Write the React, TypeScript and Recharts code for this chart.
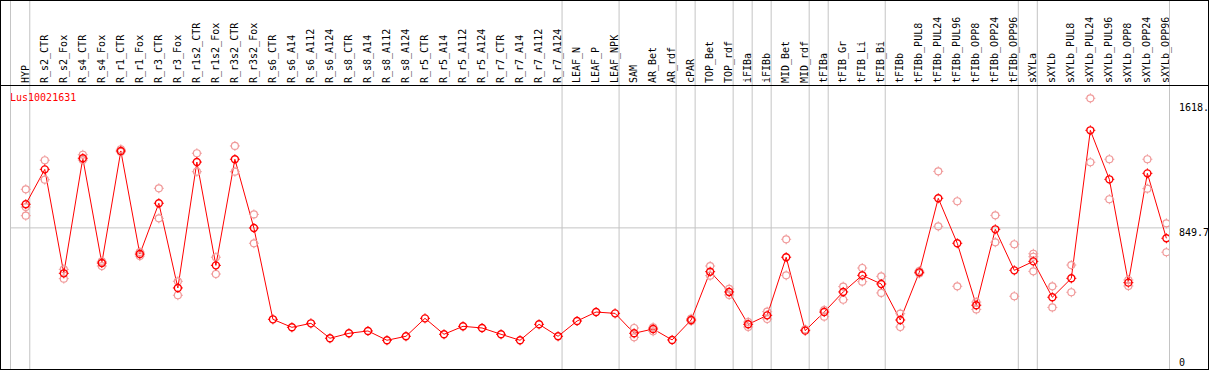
import { ComposedChart, Line, XAxis, YAxis, ReferenceLine } from 'recharts';

const categories = [
  'HYP', 'R_s2_CTR', 'R_s2_Fox', 'R_s4_CTR', 'R_s4_Fox', 'R_r1_CTR', 'R_r1_Fox', 'R_r3_CTR', 'R_r3_Fox',
  'R_r1s2_CTR', 'R_r1s2_Fox', 'R_r3s2_CTR', 'R_r3s2_Fox', 'R_s6_CTR', 'R_s6_A14', 'R_s6_A112', 'R_s6_A124',
  'R_s8_CTR', 'R_s8_A14', 'R_s8_A112', 'R_s8_A124', 'R_r5_CTR', 'R_r5_A14', 'R_r5_A112', 'R_r5_A124',
  'R_r7_CTR', 'R_r7_A14', 'R_r7_A112', 'R_r7_A124', 'LEAF_N', 'LEAF_P', 'LEAF_NPK', 'SAM', 'AR_Bet', 'AR_rdf',
  'cPAR', 'TOP_Bet', 'TOP_rdf', 'iFIBa', 'iFIBb', 'MID_Bet', 'MID_rdf', 'tFIBa', 'tFIB_Gr', 'tFIB_Li', 'tFIB_Bi',
  'tFIBb', 'tFIBb_PUL8', 'tFIBb_PUL24', 'tFIBb_PUL96', 'tFIBb_OPP8', 'tFIBb_OPP24', 'tFIBb_OPP96', 'sXYLa',
  'sXYLb', 'sXYLb_PUL8', 'sXYLb_PUL24', 'sXYLb_PUL96', 'sXYLb_OPP8', 'sXYLb_OPP24', 'sXYLb_OPP96',
];

const means = [
  992, 1202, 576, 1269, 638, 1313, 692, 998, 488, 1246, 624, 1263, 849, 299, 251, 275, 185, 215, 229, 173, 197,
  305, 209, 257, 247, 209, 173, 269, 197, 289, 343, 335, 215, 241, 175, 295, 586, 464, 269, 323, 673, 231, 343,
  464, 564, 512, 295, 582, 1028, 757, 384, 841, 594, 648, 432, 546, 1437, 1142, 520, 1178, 787,
];

const repHigh = [
  1082, 1257, 600, 1290, 648, 1323, 704, 1088, 528, 1299, 673, 1343, 931, null, null, null, null, null, null, null,
  null, null, null, null, null, null, null, null, null, null, null, null, 247, 251, null, 303, 620, 483, 283, 345,
  781, 238, 355, 496, 608, 558, 333, 590, 1190, 1010, 403, 925, 751, 694, 498, 626, 1630, 1263, 536, 1263, 877,
];

const repLow = [
  923, 1140, 544, 1258, 620, 1307, 680, 907, 444, 1188, 572, 1188, 757, null, null, null, null, null, null, null,
  null, null, null, null, null, null, null, null, null, null, null, null, 191, 227, null, 289, 562, 446, 253, 301,
  564, null, 315, 417, 526, 458, 253, 575, 859, 498, 359, 763, 438, 588, 371, 462, 1245, 1022, 500, 1086, 703,
];

const repThird: (number | null)[] = categories.map(() => null);
repThird[0] = 975;
repThird[53] = 676;

// group separators sit between these category indices (the outer two are the plot edges)
const groupBreaks = [1, 29, 32, 35, 36, 38, 39, 40, 42, 43, 46, 53, 54];

const yTicks = [0, 849.7, 1618.4];
const yTickLabels = ['0', '849.7', '1618.'];

const data = categories.map((name, i) => ({
  idx: i,
  name,
  mean: means[i],
  r1: repHigh[i],
  r2: repLow[i],
  r3: repThird[i],
}));

const mono = '"DejaVu Sans Mono", monospace';
const grid = '#c4c4c4';

function Marker({ cx, cy, color, width }: { cx: number; cy: number; color: string; width: number }) {
  const r = 3.5;
  const t = 1.5;
  return (
    <g>
      <circle cx={cx} cy={cy} r={r} fill="none" stroke={color} strokeWidth={width} />
      <line x1={cx} y1={cy - r - t} x2={cx} y2={cy - r} stroke={color} strokeWidth={1} />
      <line x1={cx} y1={cy + r} x2={cx} y2={cy + r + t} stroke={color} strokeWidth={1} />
      <line x1={cx - r - t} y1={cy} x2={cx - r} y2={cy} stroke={color} strokeWidth={1} />
      <line x1={cx + r} y1={cy} x2={cx + r + t} y2={cy} stroke={color} strokeWidth={1} />
    </g>
  );
}

const meanDot = (p: any) => {
  if (p.cx == null || p.cy == null || p.value == null) return <g key={`m${p.index}`} />;
  return <Marker key={`m${p.index}`} cx={p.cx} cy={p.cy} color="#ff0000" width={1.4} />;
};

const repDot = (p: any) => {
  if (p.cx == null || p.cy == null || p.value == null || Number.isNaN(p.cy)) return <g key={`r${p.index}`} />;
  return <Marker key={`r${p.index}`} cx={p.cx} cy={p.cy} color="#f09a9a" width={1.2} />;
};

const CategoryTick = (p: any) => {
  const x = p.x + 2.8;
  return (
    <text x={x} y={83} transform={`rotate(-90 ${x} 83)`} textAnchor="start" fontFamily={mono} fontSize={10} fill="#000">
      {categories[p.payload.value]}
    </text>
  );
};

const ValueTick = (p: any) => {
  const i = yTicks.indexOf(p.payload.value);
  const dy = i === 0 ? -3 : i === 1 ? 8 : 10.5;
  return (
    <text x={p.x + 1} y={p.y + dy} textAnchor="start" fontFamily={mono} fontSize={10} fill="#000">
      {yTickLabels[i]}
    </text>
  );
};

const fullHeightLine = (p: any) => (
  <line x1={p.x1} y1={0} x2={p.x2} y2={Math.max(p.y1, p.y2)} stroke={grid} strokeWidth={1} />
);

export default function App() {
  return (
    <div style={{ position: 'fixed', left: 0, top: 0, width: 1209, height: 370, background: '#fff' }}>
      <ComposedChart width={1209} height={370} data={data} margin={{ top: 0, right: 0, bottom: 1, left: 10 }}>
        <XAxis
          dataKey="idx"
          type="number"
          orientation="top"
          height={85}
          domain={[-0.83, 60.19]}
          allowDataOverflow
          ticks={categories.map((_, i) => i)}
          tick={<CategoryTick />}
          axisLine={false}
          tickLine={false}
          interval={0}
        />
        <YAxis
          orientation="right"
          width={39}
          domain={[0, 1710]}
          allowDataOverflow
          ticks={yTicks}
          tick={<ValueTick />}
          axisLine={false}
          tickLine={false}
          interval={0}
        />
        <ReferenceLine y={849.7} stroke={grid} strokeWidth={1} ifOverflow="visible" />
        {groupBreaks.map((k) => (
          <ReferenceLine key={`g${k}`} x={k - 0.79} stroke={grid} ifOverflow="visible" shape={fullHeightLine} />
        ))}
        <Line dataKey="r1" stroke="none" dot={repDot} activeDot={false} isAnimationActive={false} legendType="none" />
        <Line dataKey="r2" stroke="none" dot={repDot} activeDot={false} isAnimationActive={false} legendType="none" />
        <Line dataKey="r3" stroke="none" dot={repDot} activeDot={false} isAnimationActive={false} legendType="none" />
        <Line dataKey="mean" stroke="#ff0000" strokeWidth={1} dot={meanDot} activeDot={false} isAnimationActive={false} />
      </ComposedChart>
      <svg width={1209} height={370} style={{ position: 'absolute', left: 0, top: 0, pointerEvents: 'none' }}>
        <text x={10} y={101} fontFamily={mono} fontSize={10} fill="#ff0000">Lus10021631</text>
        {/* plot frame: left and right edges of the category strip */}
        <line x1={10.5} y1={0} x2={10.5} y2={369} stroke={grid} strokeWidth={1} />
        <line x1={1169.5} y1={0} x2={1169.5} y2={369} stroke={grid} strokeWidth={1} />
        <line x1={0} y1={85.5} x2={1209} y2={85.5} stroke="#000" strokeWidth={1} />
        <rect x={0.5} y={0.5} width={1208} height={369} fill="none" stroke="#000" strokeWidth={1} />
      </svg>
    </div>
  );
}
